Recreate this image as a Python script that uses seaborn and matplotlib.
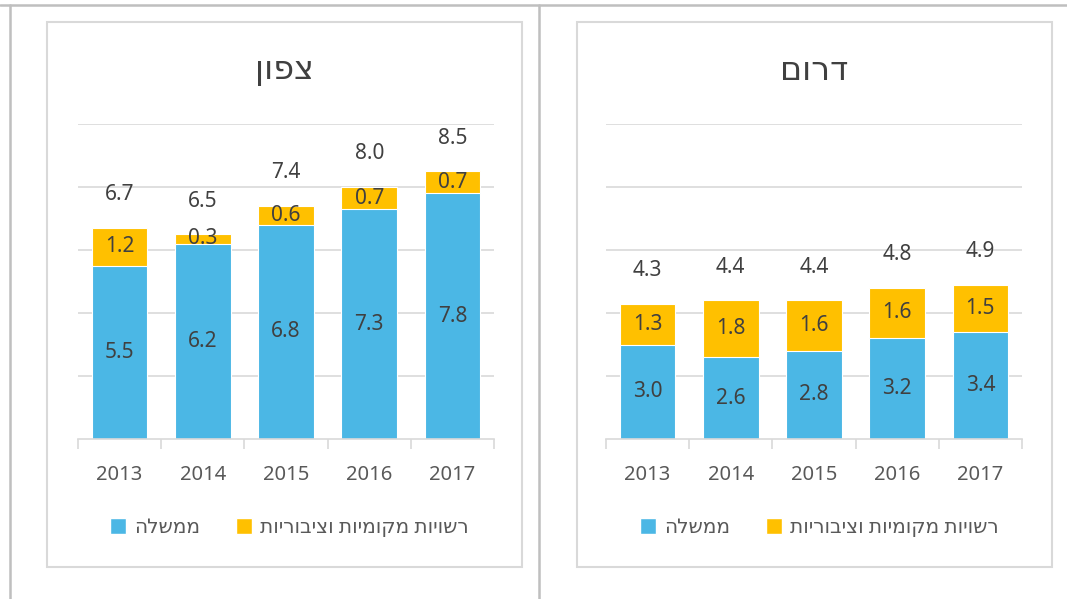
import numpy as np
import pandas as pd
import matplotlib
matplotlib.use("Agg")
import matplotlib.pyplot as plt
from matplotlib.patches import Rectangle, Patch
from matplotlib.lines import Line2D
import seaborn as sns

# data
years = ["2013", "2014", "2015", "2016", "2017"]
north_gov = [5.5, 6.2, 6.8, 7.3, 7.8]
north_local = [1.2, 0.3, 0.6, 0.7, 0.7]
north_total = [6.7, 6.5, 7.4, 8.0, 8.5]
south_gov = [3.0, 2.6, 2.8, 3.2, 3.4]
south_local = [1.3, 1.8, 1.6, 1.6, 1.5]
south_total = [4.3, 4.4, 4.4, 4.8, 4.9]

title_north = "צפון"
title_south = "דרום"
label_gov = "ממשלה"
label_local = "רשויות מקומיות וציבוריות"

BLUE = "#4BB7E5"
YELLOW = "#FFC000"
GRID = "#D9D9D9"
TXT = "#404040"
TICK = "#595959"

sns.set_theme(style="white")
plt.rcParams["font.family"] = ["Noto Sans", "DejaVu Sans"]

W, H = 1067, 599


def rtl(s):
    # matplotlib lays text out left to right, so flip Hebrew for display
    return s[::-1]


def fx(px):
    return px / W


def fy(py):
    return 1 - py / H


fig = plt.figure(figsize=(W / 100, H / 100), dpi=100)
fig.patch.set_facecolor("white")

# outer frame and divider
for xs, ys in [((0, W), (5, 5)), ((10, 10), (5, H)), ((539, 539), (5, H))]:
    fig.add_artist(Line2D([fx(x) for x in xs], [fy(y) for y in ys],
                          transform=fig.transFigure, color="#BFBFBF", lw=1.8))

# panel boxes
for x0 in (47, 577):
    fig.add_artist(Rectangle((fx(x0), fy(567)), fx(475), (567 - 22) / H,
                             transform=fig.transFigure, fill=False,
                             edgecolor=GRID, lw=1.5))

panels = [
    (78, 284.5, title_north, north_gov, north_local, north_total),
    (606, 814.5, title_south, south_gov, south_local, south_total),
]

for ax_left, cx, title, gov, local, total in panels:
    ax = fig.add_axes([fx(ax_left), fy(439), fx(416), (439 - 124) / H])
    df = pd.DataFrame({"year": years, "gov": gov, "local": local,
                       "stack": np.array(gov) + np.array(local)})
    sns.barplot(data=df, x="year", y="stack", color=YELLOW, width=0.67,
                saturation=1, edgecolor="white", linewidth=0.8, ax=ax)
    sns.barplot(data=df, x="year", y="gov", color=BLUE, width=0.67,
                saturation=1, edgecolor="white", linewidth=0.8, ax=ax)

    ax.set_ylim(0, 10)
    ax.set_xlim(-0.5, 4.5)
    ax.set_yticks([2, 4, 6, 8, 10])
    ax.yaxis.grid(True, color=GRID, lw=1.2)
    ax.set_axisbelow(True)
    ax.tick_params(axis="y", left=False, labelleft=False)
    for s in ("left", "right", "top"):
        ax.spines[s].set_visible(False)
    ax.spines["bottom"].set_color(GRID)
    ax.spines["bottom"].set_linewidth(1.2)
    ax.set_xticks(np.arange(-0.5, 5, 1), minor=True)
    ax.tick_params(axis="x", which="minor", length=7, color=GRID, width=1.2,
                   bottom=True)
    ax.tick_params(axis="x", which="major", length=0, pad=19,
                   labelsize=14.5, labelcolor=TICK)
    ax.set_xlabel("")
    ax.set_ylabel("")

    for i in range(len(years)):
        ax.text(i, gov[i] / 2, f"{gov[i]:.1f}", ha="center", va="center",
                fontsize=15, color=TXT)
        ax.text(i, gov[i] + local[i] / 2, f"{local[i]:.1f}", ha="center",
                va="center", fontsize=15, color=TXT)
        ax.text(i, total[i] + 1.05, f"{total[i]:.1f}", ha="center",
                va="center", fontsize=15, color=TXT)

    fig.text(fx(cx), fy(71), rtl(title), ha="center", va="center",
             fontsize=24, color=TXT)

    handles = [Patch(facecolor=BLUE), Patch(facecolor=YELLOW)]
    fig.legend(handles, [rtl(label_gov), rtl(label_local)],
               loc="center", bbox_to_anchor=(fx(cx + 5), fy(528)),
               ncol=2, frameon=False, fontsize=14.5, labelcolor=TICK,
               handlelength=0.8, handleheight=0.8, handletextpad=0.4,
               columnspacing=1.8)

fig.savefig("out.png", dpi=100, facecolor="white")
